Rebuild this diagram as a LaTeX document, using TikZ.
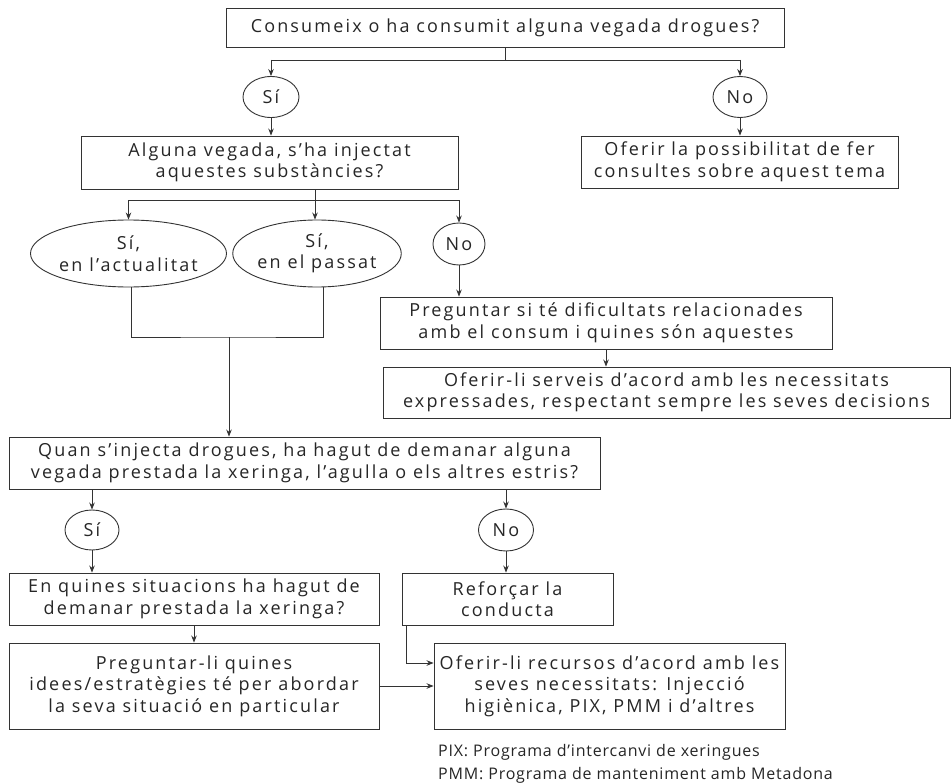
\documentclass[tikz,border=0pt]{standalone}
\usepackage{fontspec}
\setmainfont{Open Sans}[LetterSpace=12]
\newfontfamily\notefont{Open Sans}[LetterSpace=5]
\usetikzlibrary{arrows.meta,positioning,shapes.geometric}

\begin{document}
\begin{tikzpicture}[x=1pt,y=-1pt,
  every node/.style={font=\fontsize{18}{21.5}\selectfont, text=black!85},
  box/.style={draw=black!80, line width=0.9pt, align=center, inner sep=0pt},
  oval/.style={draw=black!80, line width=0.9pt, ellipse, align=center, inner sep=0pt},
  link/.style={draw=black!80, line width=0.9pt},
  >={Stealth[length=7pt,width=5.5pt]}]
  \useasboundingbox[fill=white](0,0)rectangle(951,784);

  \node[box, minimum width=558pt, minimum height=39pt](q1) at (505,27.5)
    {Consumeix o ha consumit alguna vegada drogues?};
  \node[oval, minimum width=56pt, minimum height=41pt](si1) at (271,97){Sí};
  \node[oval, minimum width=54pt, minimum height=41pt](no1) at (740,97){No};
  \node[box, minimum width=377pt, minimum height=53pt](q2) at (269.5,162.5)
    {Alguna vegada, s’ha injectat\\aquestes substàncies?};
  \node[box, minimum width=317pt, minimum height=52pt](a1) at (739.5,162)
    {Oferir la possibilitat de fer\\consultes sobre aquest tema};

  \node[oval, minimum width=169pt, minimum height=67pt](sia) at (128.5,253.5)
    {Sí,\\en l’actualitat};
  \node[oval, minimum width=164pt, minimum height=67pt](sip) at (317,253.5)
    {Sí,\\en el passat};
  \node[oval, minimum width=52pt, minimum height=42pt](no2) at (459,244){No};
  \node[box, minimum width=452pt, minimum height=52pt](p1) at (606,323)
    {Preguntar si té dificultats relacionades\\amb el consum i quines són aquestes};
  \node[box, minimum width=567pt, minimum height=51pt](p2) at (666.5,392.5)
    {Oferir-li serveis d’acord amb les necessitats\\expressades, respectant sempre les seves decisions};

  \node[box, minimum width=591pt, minimum height=52pt](q3) at (304.5,463)
    {Quan s’injecta drogues, ha hagut de demanar alguna\\vegada prestada la xeringa, l’agulla o els altres estris?};
  \node[oval, minimum width=54pt, minimum height=40pt](si3) at (92,530){Sí};
  \node[oval, minimum width=55pt, minimum height=42pt](no3) at (506,530){No};
  \node[box, minimum width=370pt, minimum height=52pt](e1) at (194,599)
    {En quines situacions ha hagut de\\demanar prestada la xeringa?};
  \node[box, minimum width=211pt, minimum height=52pt](r1) at (507.5,599)
    {Reforçar la\\conducta};
  \node[box, minimum width=370pt, minimum height=86pt](e2) at (194,686)
    {Preguntar-li quines\\idees/estratègies té per abordar\\la seva situació en particular};
  \node[box, minimum width=351pt, minimum height=86pt](r2) at (609.5,686)
    {Oferir-li recursos d’acord amb les\\seves necessitats: Injecció\\higiènica, PIX, PMM i d’altres};

  \node[font=\notefont\fontsize{16}{23}\selectfont, align=left, anchor=west, inner sep=0pt](nt) at (438,764)
    {PIX: Programa d’intercanvi de xeringues\\PMM: Programa de manteniment amb Metadona};

  \coordinate(b1) at (505,60);
  \coordinate(b2) at (315,200);
  \coordinate(m1) at (229,337);
  \path[link](q1.south) -- (b1);
  \path[link](si1.north |- b1) -- (no1.north |- b1);
  \draw[link,->](si1.north |- b1) -- (si1.north);
  \draw[link,->](no1.north |- b1) -- (no1.north);
  \draw[link,->](si1.south) -- (si1.south |- q2.north);
  \draw[link,->](no1.south) -- (no1.south |- a1.north);

  \path[link](q2.south -| b2) -- (b2);
  \path[link](sia.north |- b2) -- (no2.north |- b2);
  \draw[link,->](sia.north |- b2) -- (sia.north);
  \draw[link,->](b2) -- (b2 |- sip.north);
  \draw[link,->](no2.north |- b2) -- (no2.north);
  \draw[link,->](no2.south) -- (no2.south |- p1.north);
  \draw[link,->](p1.south) -- (p1.south |- p2.north);

  \path[link]([xshift=3pt]sia.south) |- (m1) -| ([xshift=6pt]sip.south);
  \draw[link,->](m1) -- (m1 |- q3.north);

  \draw[link,->](q3.south -| si3.north) -- (si3.north);
  \draw[link,->](q3.south -| no3.north) -- (no3.north);
  \draw[link,->](si3.south) -- (si3.south |- e1.north);
  \draw[link,->](no3.south) -- (no3.south |- r1.north);
  \draw[link,->](e1.south) -- (e1.south |- e2.north);
  \draw[link,->](e2.east) -- (r2.west);
  \draw[link,->]([xshift=5pt]r1.south west) |- ([yshift=23pt]r2.west);
\end{tikzpicture}
\end{document}
